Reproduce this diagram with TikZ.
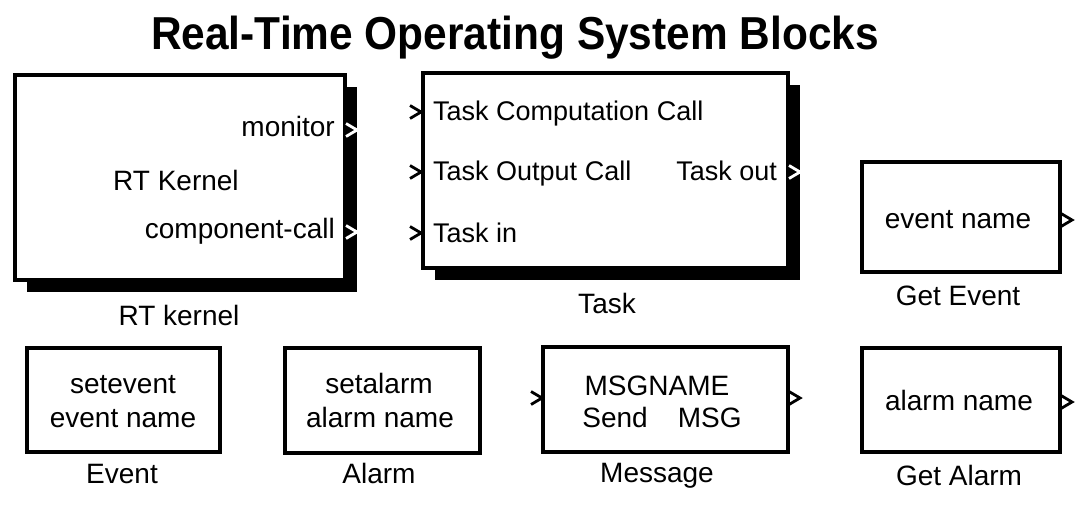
\documentclass[tikz,border=0pt]{standalone}
\usepackage{fontspec}
\setmainfont{Liberation Sans}
\usetikzlibrary{shadows}
\begin{document}
\begin{tikzpicture}[x=1pt,y=-1pt,
  blkbox/.style 2 args={draw=black, line width=3.5pt, fill=white, inner sep=0pt, minimum width=#1pt, minimum height=#2pt},
  shadowed/.style={drop shadow={shadow xshift=12pt, shadow yshift=-12pt, fill=black, opacity=1}},
  txt/.style={inner sep=0pt, font=\fontsize{28pt}{34pt}\selectfont},
  ttxt/.style={inner sep=0pt, font=\fontsize{27pt}{32pt}\selectfont},
  titletxt/.style={inner sep=0pt, font=\fontsize{42pt}{50pt}\selectfont\bfseries},
  chev/.pic={\draw[line width=2.8pt, miter limit=4, pic actions] (0,-6.5) -- (11,0) -- (0,6.5);}
]
\useasboundingbox (0,0) rectangle (1075,504);
\fill[white] (0,0) rectangle (1075,504);

% title
\node[titletxt, anchor=base] (title) at (515,49) {\scalebox{1.01}[1.1]{Real-Time Operating System Blocks}};

% RT kernel block
\node[blkbox={330}{205}, shadowed] (kern) at (180,177.5) {};
\node[txt, anchor=base east] (kmon) at (335,136) {monitor};
\node[txt, anchor=base west] (kname) at (113,190) {RT Kernel};
\node[txt, anchor=base east] (kcc) at (335,238) {component-call};
\node[txt, anchor=base] (klab) at (179,325) {RT kernel};
\pic[white] at (346,130) {chev};
\pic[white] at (346,232) {chev};

% Task block
\node[blkbox={365}{195}, shadowed] (task) at (605.5,170.5) {};
\node[ttxt, anchor=base west] (tcc) at (433,120) {Task Computation Call};
\node[ttxt, anchor=base west] (toc) at (433,180) {Task Output Call};
\node[ttxt, anchor=base west] (tin) at (433,242) {Task in};
\node[ttxt, anchor=base east] (tout) at (777,180) {Task out};
\node[txt, anchor=base] (tlab) at (607,313) {Task};
\pic at (410,112) {chev};
\pic at (410,172) {chev};
\pic at (410,233) {chev};
\pic[white] at (789,172) {chev};

% Get Event block
\node[blkbox={198}{110}] (gev) at (961,217) {};
\node[txt, anchor=base] (gevtxt) at (958,228) {event name};
\node[txt, anchor=base] (gevlab) at (958,305) {Get Event};
\pic at (1061,220) {chev};

% Event block
\node[blkbox={193}{104}] (ev) at (123.5,400) {};
\node[txt, anchor=base] (ev1) at (123,393) {setevent};
\node[txt, anchor=base] (ev2) at (123,427) {event name};
\node[txt, anchor=base] (evlab) at (122,483) {Event};

% Alarm block
\node[blkbox={195}{105}] (al) at (382.5,400.5) {};
\node[txt, anchor=base] (al1) at (379,393) {setalarm};
\node[txt, anchor=base] (al2) at (380,427) {alarm name};
\node[txt, anchor=base] (allab) at (379,483) {Alarm};

% Message block
\node[blkbox={245}{105}] (msg) at (665.5,399.5) {};
\node[txt, anchor=base] (m1) at (657,395) {MSGNAME};
\node[txt, anchor=base] (m2) at (662,427) {Send\hspace{30pt}MSG};
\node[txt, anchor=base] (mlab) at (657,482) {Message};
\pic at (531,398) {chev};
\pic at (789,398) {chev};

% Get Alarm block
\node[blkbox={198}{104}] (gal) at (961,400) {};
\node[txt, anchor=base] (galtxt) at (959,410) {alarm name};
\node[txt, anchor=base] (gallab) at (959,485) {Get Alarm};
\pic at (1061,402) {chev};
\end{tikzpicture}
\end{document}
